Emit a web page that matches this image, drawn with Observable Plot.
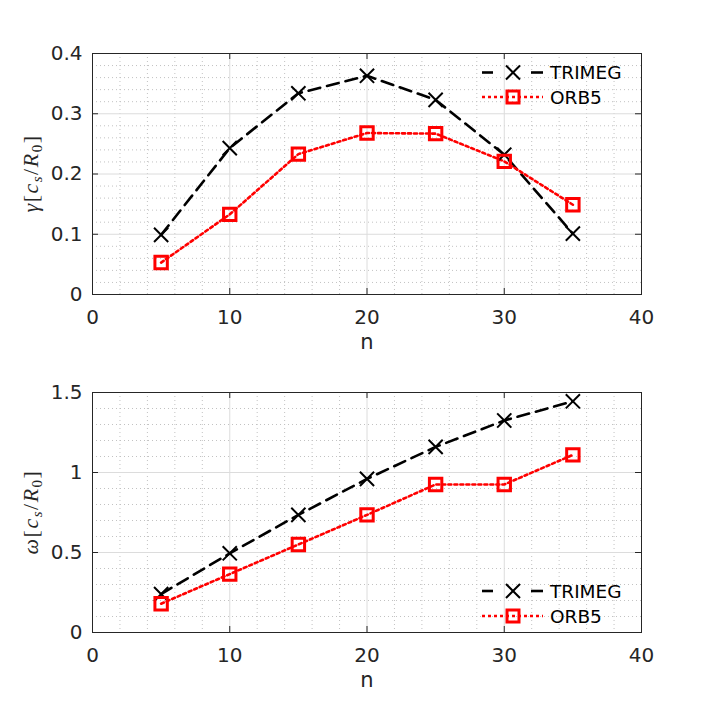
<!DOCTYPE html>
<html><head><meta charset="utf-8">
<script src="https://cdn.jsdelivr.net/npm/d3@7"></script>
<script src="https://cdn.jsdelivr.net/npm/@observablehq/plot@0.6"></script>
<style>
body{margin:0;background:#fff}
#chart svg{display:block}
</style>
</head><body><div id="chart"></div>
<script>
// ---- data ----
const nValues = [5, 10, 15, 20, 25, 30, 35];
const gammaTRIMEG = [0.099, 0.243, 0.334, 0.363, 0.323, 0.232, 0.101];
const gammaORB5   = [0.053, 0.133, 0.233, 0.268, 0.267, 0.221, 0.149];
const omegaTRIMEG = [0.24, 0.495, 0.735, 0.96, 1.16, 1.325, 1.445];
const omegaORB5   = [0.18, 0.365, 0.55, 0.735, 0.925, 0.925, 1.11];
const seriesNames = ["TRIMEG", "ORB5"];
const xTicks = [0, 10, 20, 30, 40];
const xMinor = [2,4,6,8,12,14,16,18,22,24,26,28,32,34,36,38];
const gammaTicks = [0, 0.1, 0.2, 0.3, 0.4];
const gammaMinor = [0.02,0.04,0.06,0.08,0.12,0.14,0.16,0.18,0.22,0.24,0.26,0.28,0.32,0.34,0.36,0.38];
const omegaTicks = [0, 0.5, 1, 1.5];
const omegaMinor = [0.1,0.2,0.3,0.4,0.6,0.7,0.8,0.9,1.1,1.2,1.3,1.4];
const xLabel = "n";

const INK = "#262626";
const W = 711, ML = 92, MR = 70;

function panel({height, marginTop, marginBottom, yDomain, yTicks, yMinor, trimeg, orb5, symbolName, legendRows}) {
  const ph = height - marginTop - marginBottom, pw = W - ML - MR;
  const rowsT = nValues.map((x, i) => ({n: x, v: trimeg[i]}));
  const rowsO = nValues.map((x, i) => ({n: x, v: orb5[i]}));
  const plot = Plot.plot({
    width: W, height, marginLeft: ML, marginRight: MR, marginTop, marginBottom,
    style: {fontFamily: "DejaVu Sans", fontSize: "20px", color: INK, background: "white", overflow: "visible"},
    x: {domain: [0, 40]},
    y: {domain: yDomain},
    marks: [
      Plot.gridX({ticks: xMinor, stroke: "#c2c2c2", strokeOpacity: 1, strokeDasharray: "1,3"}),
      Plot.gridY({ticks: yMinor, stroke: "#c2c2c2", strokeOpacity: 1, strokeDasharray: "1,3"}),
      Plot.gridX({ticks: xTicks.slice(1, -1), stroke: "#dcdcdc", strokeOpacity: 1}),
      Plot.gridY({ticks: yTicks.slice(1, -1), stroke: "#dcdcdc", strokeOpacity: 1}),
      Plot.ruleX(xTicks, {x: d => d, insetTop: ph - 6, stroke: INK}),
      Plot.ruleX(xTicks, {x: d => d, insetBottom: ph - 6, stroke: INK}),
      Plot.ruleY(yTicks, {y: d => d, insetRight: pw - 6, stroke: INK}),
      Plot.ruleY(yTicks, {y: d => d, insetLeft: pw - 6, stroke: INK}),
      Plot.frame({stroke: INK}),
      Plot.axisX({ticks: xTicks, tickSize: 0, tickPadding: 15, fontSize: 20, label: null, tickFormat: d => String(d)}),
      Plot.axisY({ticks: yTicks, tickSize: 0, tickPadding: 10, fontSize: 20, label: null, tickFormat: d => String(d)}),
      Plot.text([xLabel], {text: d => d, frameAnchor: "bottom", dy: 54, fontSize: 21, fill: INK}),
      Plot.line(rowsT, {x: "n", y: "v", stroke: "black", strokeWidth: 2.6, strokeDasharray: "12,7"}),
      Plot.line(rowsO, {x: "n", y: "v", stroke: "#ff0000", strokeWidth: 2.6, strokeDasharray: "3,3"}),
      Plot.dot(rowsT, {x: "n", y: "v", symbol: "times", r: 6.5, stroke: "black", strokeWidth: 2}),
      Plot.dot(rowsO, {x: "n", y: "v", symbol: "square", r: 7, stroke: "#ff0000", strokeWidth: 3, fill: "none"})
    ]
  });
  const svg = d3.select(plot);
  // y label
  const cy = marginTop + ph / 2;
  const t = svg.append("text")
    .attr("transform", `translate(38,${cy}) rotate(-90)`)
    .attr("text-anchor", "middle")
    .attr("fill", INK)
    .attr("font-family", "Liberation Serif, DejaVu Serif, serif")
    .attr("font-size", 22)
    .attr("letter-spacing", 1.5);
  t.append("tspan").attr("font-style", "italic").text(symbolName);
  t.append("tspan").text("[");
  t.append("tspan").attr("font-style", "italic").text("c");
  t.append("tspan").attr("font-style", "italic").attr("font-size", 15).attr("dy", 4).text("s");
  t.append("tspan").attr("dy", -4).text("/");
  t.append("tspan").attr("font-style", "italic").text("R");
  t.append("tspan").attr("font-size", 15).attr("dy", 4).text("0");
  t.append("tspan").attr("dy", -4).text("]");
  // legend
  const right = ML + pw;
  const lg = svg.append("g").attr("text-anchor", "start");
  legendRows.forEach((yy, k) => {
    const y = yy;
    const x0 = right - 159, xm = right - 128, x1 = right - 98;
    if (k === 0) {
      lg.append("line").attr("x1", x0).attr("x2", x0 + 11).attr("y1", y).attr("y2", y).attr("stroke", "black").attr("stroke-width", 2.6);
      lg.append("line").attr("x1", x1 - 12).attr("x2", x1).attr("y1", y).attr("y2", y).attr("stroke", "black").attr("stroke-width", 2.6);
      lg.append("path").attr("d", `M${xm-7},${y-7}L${xm+7},${y+7}M${xm-7},${y+7}L${xm+7},${y-7}`).attr("stroke", "black").attr("stroke-width", 2).attr("fill", "none");
    } else {
      lg.append("line").attr("x1", x0).attr("x2", x1).attr("y1", y).attr("y2", y).attr("stroke", "#ff0000").attr("stroke-width", 2.6).attr("stroke-dasharray", "3,3");
      lg.append("rect").attr("x", xm - 6).attr("y", y - 6).attr("width", 12).attr("height", 12).attr("stroke", "#ff0000").attr("stroke-width", 3).attr("fill", "none");
    }
    lg.append("text").attr("x", right - 91).attr("y", y).attr("dy", "0.36em").attr("text-anchor", "start")
      .attr("font-family", "DejaVu Sans").attr("font-size", 18.5).attr("fill", "black").text(seriesNames[k]);
  });
  return plot;
}

const topPanel = panel({height: 355, marginTop: 53, marginBottom: 61, yDomain: [0, 0.4], yTicks: gammaTicks, yMinor: gammaMinor,
  trimeg: gammaTRIMEG, orb5: gammaORB5, symbolName: "γ", legendRows: [72.5, 97]});
const bottomPanel = panel({height: 356, marginTop: 37, marginBottom: 79, yDomain: [0, 1.5], yTicks: omegaTicks, yMinor: omegaMinor,
  trimeg: omegaTRIMEG, orb5: omegaORB5, symbolName: "ω", legendRows: [236, 261]});
document.getElementById("chart").append(topPanel, bottomPanel);
</script>
</body></html>
